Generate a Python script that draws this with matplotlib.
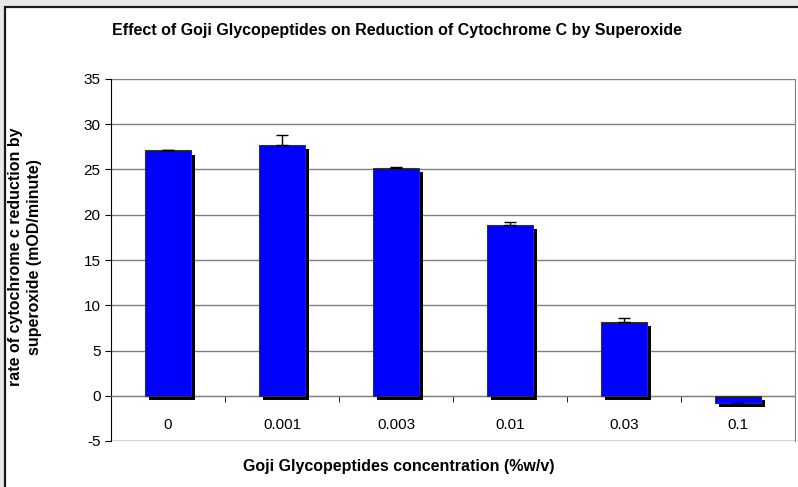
import matplotlib
matplotlib.use("Agg")
import matplotlib.pyplot as plt
import matplotlib.patheffects as pe
from matplotlib.patches import Rectangle
import numpy as np

categories = ["0", "0.001", "0.003", "0.01", "0.03", "0.1"]
rates = [27.1, 27.7, 25.2, 18.9, 8.2, -0.8]
errors = [0.1, 1.1, 0.1, 0.3, 0.4, 0.2]

plt.rcParams["font.family"] = ["Liberation Sans", "DejaVu Sans"]
plt.rcParams["axes.unicode_minus"] = False

fig = plt.figure(figsize=(7.98, 4.87), dpi=100, facecolor="#e8e8e8")

# white chart area with dark frame, cropped at right/bottom like the source
fig.patches.append(Rectangle((5 / 798, -0.05), 1.0, 0.05 + 1 - 7 / 487, transform=fig.transFigure,
                             facecolor="white", edgecolor="#1a1a1a", linewidth=1.6, zorder=-10))

ax = fig.add_axes([111 / 798, 46 / 487, 684 / 798, 362 / 487])
ax.set_facecolor("none")

x = np.arange(len(categories))
bars = ax.bar(x, rates, width=0.4, color="#0000FF", edgecolor="#333333",
              linewidth=0.8, zorder=3)
for b in bars:
    b.set_path_effects([pe.SimplePatchShadow(offset=(3, -3), shadow_rgbFace="black", alpha=1.0),
                        pe.Normal()])

# upward error bars only (downward for the negative bar)
lower = [e if r < 0 else 0 for r, e in zip(rates, errors)]
upper = [0 if r < 0 else e for r, e in zip(rates, errors)]
ax.errorbar(x, rates, yerr=[lower, upper], fmt="none", ecolor="black",
            elinewidth=1, capsize=4, capthick=1, zorder=4)

ax.set_xlim(-0.5, len(categories) - 0.5)
ax.set_ylim(-5, 35)
ax.set_yticks(np.arange(-5, 36, 5))
ax.yaxis.grid(True, color="#808080", linewidth=1, zorder=0)
ax.set_axisbelow(True)

ax.spines["top"].set_visible(False)
ax.spines["right"].set_color("#808080")
ax.spines["left"].set_color("black")
ax.spines["bottom"].set_position(("data", 0))
ax.spines["bottom"].set_color("#808080")
# bottom border of the plot area at -5
ax.axhline(-5, color="#808080", linewidth=1, zorder=1)

ax.set_xticks(x)
ax.set_xticklabels(categories)
ax.tick_params(axis="x", which="major", length=0, pad=16, labelsize=11)
ax.set_xticks(np.arange(-0.5, len(categories), 1), minor=True)
ax.tick_params(axis="x", which="minor", length=4, color="black", direction="out")
ax.tick_params(axis="y", length=4.5, labelsize=11, color="black", pad=3)

fig.text(0.5, 21 / 487, "Goji Glycopeptides concentration (%w/v)", ha="center", va="center",
         fontsize=11.5, fontweight="bold")
fig.text(25 / 798, 1 - 257 / 487, "rate of cytochrome c reduction by\nsuperoxide (mOD/minute)",
         ha="center", va="center", rotation=90, multialignment="center",
         fontsize=11.5, fontweight="bold", linespacing=1.25)
fig.text(397 / 798, 1 - 31 / 487, "Effect of Goji Glycopeptides on Reduction of Cytochrome C by Superoxide",
         ha="center", va="center", fontsize=11.5, fontweight="bold")

fig.savefig("out.png", dpi=100, facecolor=fig.get_facecolor())
